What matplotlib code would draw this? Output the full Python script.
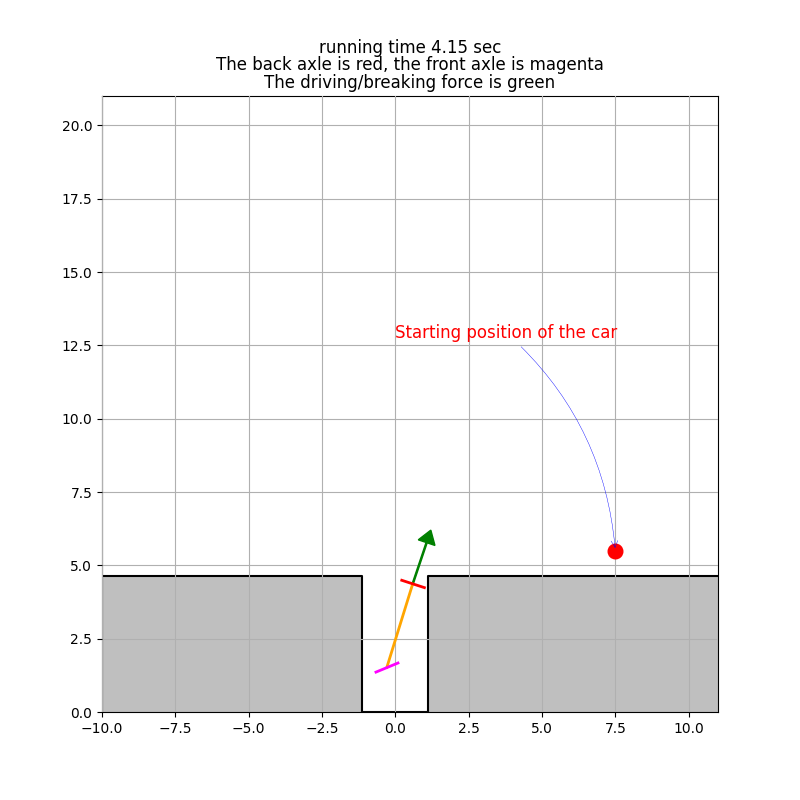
import matplotlib
matplotlib.use('Agg')
import matplotlib.pyplot as plt

wall_left_x = [-10, -1.125, -1.125]
wall_left_y = [4.65, 4.65, 0]
floor_x = [-1.125, 1.125]
floor_y = [0, 0]
wall_right_x = [1.125, 1.125, 11]
wall_right_y = [0, 4.65, 4.65]
gray_left_x = [-10, -1.125]
gray_right_x = [1.125, 11]
gray_top = 4.65
body_x = [-0.29, 0.59]
body_y = [1.52, 4.36]
back_axle_x = [0.22, 0.99]
back_axle_y = [4.49, 4.24]
front_axle_x = [-0.66, 0.09]
front_axle_y = [1.36, 1.67]
force_start = (0.59, 4.36)
force_delta = (0.62, 1.84)
start_pos = (7.5, 5.5)
label_pos = (0.0, 12.75)
title = ("running time 4.15 sec\n"
         "The back axle is red, the front axle is magenta\n"
         "The driving/breaking force is green")

fig = plt.figure(figsize=(8, 8), dpi=100)
ax = fig.add_axes([0.1275, 0.11, 0.77, 0.77])
ax.set_xlim(-10, 11)
ax.set_ylim(0, 21)
ax.grid(True)
ax.set_axisbelow(False)
ax.fill_between(gray_left_x, 0, gray_top, color='k', alpha=0.25, lw=0)
ax.fill_between(gray_right_x, 0, gray_top, color='k', alpha=0.25, lw=0)
ax.plot(wall_left_x, wall_left_y, 'k', lw=1.5)
ax.plot(floor_x, floor_y, 'k', lw=1.5)
ax.plot(wall_right_x, wall_right_y, 'k', lw=1.5)
ax.arrow(force_start[0], force_start[1], force_delta[0], force_delta[1],
         width=0.04, head_width=0.6, head_length=0.45,
         length_includes_head=True, color='green', zorder=3)
ax.plot(body_x, body_y, color='orange', lw=2, zorder=4)
ax.plot(back_axle_x, back_axle_y, color='red', lw=2, zorder=5)
ax.plot(front_axle_x, front_axle_y, color='magenta', lw=2, zorder=5)
ax.plot([start_pos[0]], [start_pos[1]], 'o', color='red', ms=10.5, zorder=5)
ax.annotate('Starting position of the car', xy=start_pos, xytext=label_pos,
            color='red', fontsize=12,
            arrowprops=dict(arrowstyle='->', color='blue', lw=0.3,
                            connectionstyle='arc3,rad=-0.2'), zorder=6)
ax.set_title(title, fontsize=12, linespacing=0.965)
fig.savefig('out.png', dpi=100)
